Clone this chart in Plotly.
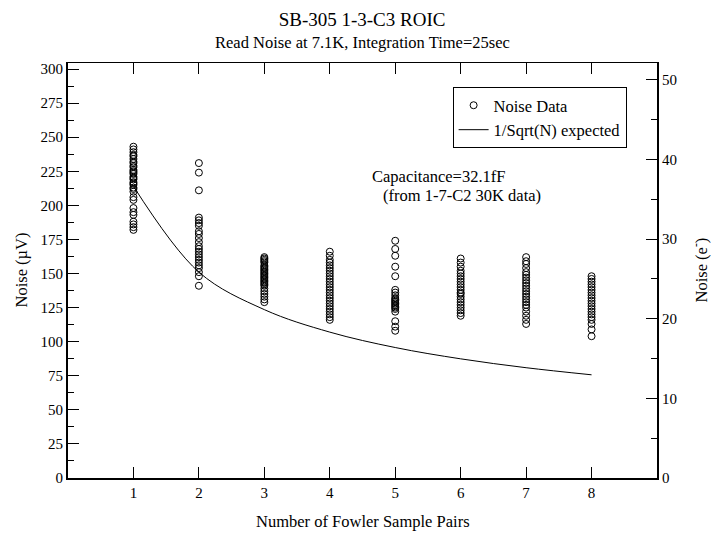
import plotly.graph_objects as go

# Number of Fowler sample pairs (columns) and measured noise (µV) per column
n_pairs = [1, 2, 3, 4, 5, 6, 7, 8]

noise_n1 = [243, 241, 239, 237, 236, 234, 232, 231, 229, 228, 226, 225, 224, 223, 221,
            220, 219, 217, 216, 215, 213, 212, 210, 206, 204, 198, 195, 193, 188, 186, 184, 182]
noise_n2 = [231, 224, 211, 191, 189, 187, 185, 181, 179, 176, 173, 170, 168, 166, 164,
            162, 160, 158, 156, 154, 151, 148, 141]
noise_n3 = [162, 161, 160, 159, 158, 156, 155, 154, 153, 152, 151, 150, 149, 148, 147,
            146, 145, 144, 143, 142, 141, 139, 137, 135, 133, 131, 129]
noise_n4 = [166, 163, 160, 158, 156, 154, 152, 150, 148, 146, 144, 142, 140, 138, 136,
            134, 132, 130, 128, 126, 124, 122, 120, 118, 116]
noise_n5 = [174, 168, 163, 155, 148, 138, 136, 134, 132, 131, 130, 129, 128, 127, 126,
            125, 124, 122, 115, 111, 108]
noise_n6 = [161, 158, 155, 152, 150, 148, 146, 144, 142, 140, 138, 136, 135, 133, 131,
            129, 127, 125, 123, 121, 119]
noise_n7 = [162, 159, 157, 154, 151, 149, 147, 145, 143, 141, 139, 137, 135, 133, 131,
            129, 127, 125, 122, 119, 116, 113]
noise_n8 = [148, 146, 144, 142, 140, 138, 136, 134, 132, 130, 128, 126, 124, 122, 120,
            118, 116, 113, 109, 104]

noise_columns = [noise_n1, noise_n2, noise_n3, noise_n4, noise_n5, noise_n6, noise_n7, noise_n8]

# 1/Sqrt(N) expected curve at each N
expected_noise = [214, 151, 123.5, 107, 95.7, 87.4, 80.9, 75.7]

x_tick_labels = ["1", "2", "3", "4", "5", "6", "7", "8"]

FONT = "Liberation Serif, Times New Roman, serif"
TXT = 16.5
TICK = 15

# plot area in pixels (for placing titles in the margins)
L, R, T, B = 68, 55, 63, 56
PW, PH = 712 - L - R, 534 - T - B

data_x, data_y = [], []
for n, col in zip(n_pairs, noise_columns):
    data_x.extend([n] * len(col))
    data_y.extend(col)

fig = go.Figure()
fig.add_trace(go.Scatter(
    x=data_x, y=data_y, mode="markers", name="Noise Data",
    marker=dict(symbol="circle-open", size=7, color="black", line=dict(width=1, color="black")),
))
fig.add_trace(go.Scatter(
    x=n_pairs, y=expected_noise, mode="lines", name="1/Sqrt(N) expected",
    line=dict(color="black", width=1, shape="spline", smoothing=1.0),
))
# empty traces so the top mirror axis and right axis are drawn
fig.add_trace(go.Scatter(x=[], y=[], xaxis="x2", yaxis="y", showlegend=False))
fig.add_trace(go.Scatter(x=[], y=[], xaxis="x", yaxis="y2", showlegend=False))

fig.update_layout(
    width=712, height=534,
    margin=dict(l=L, r=R, t=T, b=B, autoexpand=False),
    paper_bgcolor="white", plot_bgcolor="white",
    font=dict(family=FONT, size=TXT, color="black"),
    title=dict(text="SB-305 1-3-C3 ROIC", x=0.5085, xanchor="center",
               y=1 - 19 / 534, yanchor="middle", yref="container",
               font=dict(size=19, family=FONT, color="black")),
    showlegend=True,
    legend=dict(x=0.653, y=1 - (87 - T) / PH, xanchor="left", yanchor="top",
                bordercolor="black", borderwidth=1, bgcolor="white",
                font=dict(size=TXT, family=FONT), tracegroupgap=0),
    xaxis=dict(range=[0, 9], tickvals=n_pairs, ticktext=x_tick_labels,
               ticks="inside", ticklen=11, tickwidth=1, tickcolor="black",
               ticklabelstandoff=0, tickfont=dict(size=TICK), automargin=False,
               showline=True, linewidth=2, linecolor="black", mirror=False,
               showgrid=False, zeroline=False),
    xaxis2=dict(range=[0, 9], overlaying="x", side="top", anchor="y",
                tickvals=n_pairs, ticks="inside", ticklen=11, tickwidth=1,
                tickcolor="black", showticklabels=False, automargin=False,
                showline=True, linewidth=1, linecolor="black",
                showgrid=False, zeroline=False),
    yaxis=dict(range=[0, 304.4], dtick=25, tick0=0,
               ticks="inside", ticklen=11, tickwidth=1, tickcolor="black",
               tickfont=dict(size=TICK), automargin=False,
               minor=dict(dtick=12.5, ticks="inside", ticklen=6, tickcolor="black", tickwidth=1),
               showline=True, linewidth=2, linecolor="black", mirror=False,
               showgrid=False, zeroline=False),
    yaxis2=dict(range=[0, 52.1], dtick=10, tick0=0, overlaying="y", side="right", anchor="x",
                ticks="inside", ticklen=11, tickwidth=1, tickcolor="black",
                tickfont=dict(size=TICK), automargin=False,
                minor=dict(dtick=5, ticks="inside", ticklen=6, tickcolor="black", tickwidth=1),
                showline=True, linewidth=2, linecolor="black",
                showgrid=False, zeroline=False),
    annotations=[
        dict(text="Read Noise at 7.1K, Integration Time=25sec", xref="paper", yref="paper",
             x=0.5, y=1 + (T - 42) / PH, xanchor="center", yanchor="middle", showarrow=False,
             font=dict(size=TXT, family=FONT)),
        dict(text="Number of Fowler Sample Pairs", xref="paper", yref="paper",
             x=0.5, y=-(521 - (534 - B)) / PH, xanchor="center", yanchor="middle",
             showarrow=False, font=dict(size=TXT, family=FONT)),
        dict(text="Noise (µV)", xref="paper", yref="paper", textangle=-90,
             x=-(L - 21) / PW, y=0.5, xanchor="center", yanchor="middle",
             showarrow=False, font=dict(size=TXT, family=FONT)),
        dict(text="Noise (e<sup>-</sup>)", xref="paper", yref="paper", textangle=-90,
             x=1 + (701 - (712 - R)) / PW, y=0.5, xanchor="center", yanchor="middle",
             showarrow=False, font=dict(size=TXT, family=FONT)),
        dict(text="Capacitance=32.1fF", xref="x", yref="y", x=4.62, y=221,
             xanchor="left", yanchor="middle", showarrow=False, font=dict(size=TXT, family=FONT)),
        dict(text="(from 1-7-C2 30K data)", xref="x", yref="y", x=4.78, y=207,
             xanchor="left", yanchor="middle", showarrow=False, font=dict(size=TXT, family=FONT)),
    ],
)

fig.write_html("out.html")
